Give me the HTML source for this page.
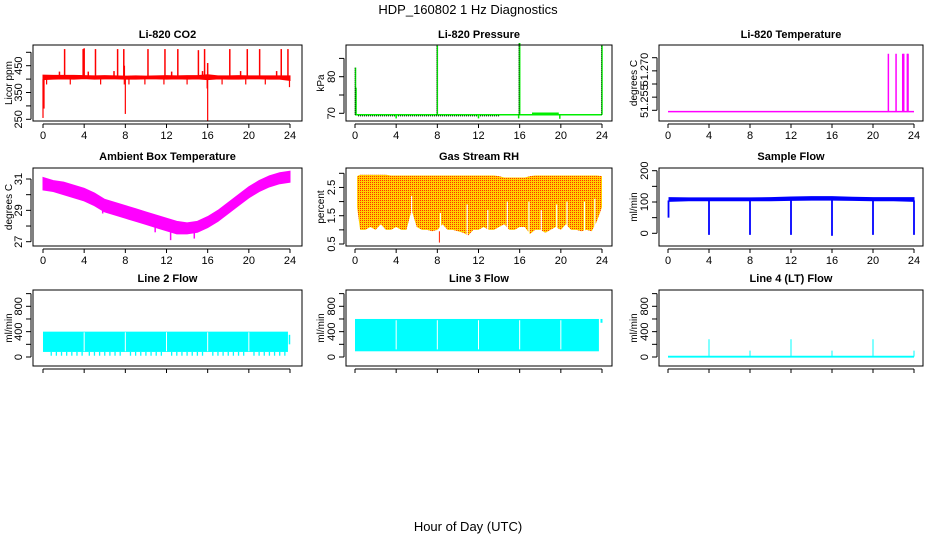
<!DOCTYPE html>
<html><head><meta charset="utf-8"><style>
html,body{margin:0;padding:0;background:#fff;}
svg{display:block;font-family:"Liberation Sans",sans-serif;}
</style></head><body>
<svg id="c" width="936" height="540" viewBox="0 0 936 540" xmlns="http://www.w3.org/2000/svg">
<defs>
<pattern id="rhpat" width="2" height="2" patternUnits="userSpaceOnUse">
<rect width="2" height="2" fill="#ffd000"/><rect x="0" y="0" width="1" height="1" fill="#ff3000"/>
</pattern>
</defs>
<text x="468" y="14" text-anchor="middle" font-size="13">HDP_160802 1 Hz Diagnostics</text>
<text x="468" y="531" text-anchor="middle" font-size="13">Hour of Day (UTC)</text>
</svg>
<script>
// ---- data ----
const xTicks = [0,4,8,12,16,20,24];
// CO2
const co2Hours = [0,1,2,3,4,5,6,7,8,9,10,11,12,13,14,15,16,17,18,19,20,21,22,23,24];
const co2Lo = [398,400,401,400,402,400,401,401,400,400,401,401,400,401,400,401,398,401,400,400,401,401,400,400,395];
const co2Hi = [415,414,414,414,413,412,413,412,411,412,411,412,413,412,413,413,416,412,412,413,412,412,412,412,412];
const co2SpikeHours = [2.1,3.9,4.0,5.1,7.25,7.85,10.2,11.85,13.1,15.1,15.7,18.15,19.85,21.05,23.15,23.8,1.6,4.4,6.9,7.9,12.5,15.5,16.0,19.2,22.7];
const co2SpikeVals = [512,512,515,512,512,512,512,512,512,508,512,512,512,512,512,512,428,428,430,450,428,430,460,430,430];
const co2DipHours = [0.0,0.1,0.35,2.65,5.6,7.9,8.0,8.35,9.9,11.75,14.0,16.0,15.95,17.4,19.7,21.6,23.95];
const co2DipVals = [255,290,380,380,380,380,270,380,380,380,380,243,365,380,380,380,370];
// Pressure
const presBase = 69.6;
const presSpikeHours = [0.05,0.1,8.0,15.98,16.0,24.0];
const presSpikeVals = [82.5,77,88.5,89.2,89.2,88.5];
const presDipHours = [4,12,15.9,19.9];
const presDipVals = [68.6,68.6,68.6,68.5];
// Li-820 temperature
const tempBase = 51.2495;
const tempSpikeHours = [21.5,22.25,22.9,23.0,23.35,23.42];
const tempSpikeVals = [51.2715,51.2715,51.2715,51.2715,51.2715,51.2715];
// Ambient
const ambHours = [0,1,2,3,4,5,6,7,8,9,10,11,12,13,14,15,16,17,18,19,20,21,22,23,24];
const ambLo = [30.3,30.2,30.0,29.8,29.6,29.3,28.9,28.7,28.5,28.3,28.1,27.9,27.7,27.5,27.5,27.6,27.9,28.3,28.8,29.3,29.8,30.2,30.5,30.7,30.8];
const ambHi = [31.1,30.9,30.8,30.6,30.4,30.1,29.7,29.5,29.3,29.1,28.9,28.7,28.5,28.3,28.2,28.3,28.6,29.0,29.5,30.0,30.5,30.9,31.2,31.4,31.5];
const ambDipHours = [2.6,5.8,10.9,12.4,14.7];
const ambDipVals = [29.9,28.8,27.6,27.1,27.2];
// RH
const rhHours = [0.2,0.5,1,1.5,2,2.5,3,3.5,4,4.5,5,5.5,6,6.5,7,7.5,8,8.5,9,9.5,10,10.5,11,11.5,12,12.5,13,13.5,14,14.5,15,15.5,16,16.5,17,17.5,18,18.5,19,19.5,20,20.5,21,21.5,22,22.5,23,23.5,24];
const rhLo = [1.8,1.0,1.0,1.1,1.0,1.2,1.0,1.0,1.1,1.0,1.0,1.7,1.1,1.0,1.0,0.95,1.0,1.2,1.0,1.0,0.95,0.9,0.8,1.0,1.0,1.1,1.0,1.0,1.1,1.2,1.0,1.0,1.1,1.1,0.85,1.0,1.0,0.9,1.0,1.1,1.0,1.2,1.0,1.0,0.95,1.0,0.95,1.3,1.8];
const rhHi = [2.9,2.95,2.95,2.95,2.95,2.95,2.95,2.92,2.92,2.92,2.92,2.92,2.92,2.92,2.92,2.92,2.92,2.92,2.92,2.92,2.92,2.92,2.92,2.92,2.92,2.92,2.92,2.92,2.9,2.85,2.85,2.85,2.85,2.85,2.9,2.92,2.92,2.92,2.92,2.92,2.92,2.92,2.92,2.92,2.92,2.92,2.92,2.92,2.9];
const rhGapHours = [5.5,8.3,10.9,12.9,14.8,16.9,18.1,19.6,20.6,22.3,23.3];
const rhGapVals = [2.2,1.6,1.9,1.7,2.0,2.0,1.7,1.9,2.0,2.0,2.1];
// Sample flow
const sfHours = [0.1,2,4,6,8,10,12,14,16,18,20,22,24];
const sfLo = [102,104,104,104,104,104,105,106,106,105,104,104,102];
const sfHi = [114,113,113,113,113,114,116,117,117,115,114,114,114];
const sfDipHours = [0.05,4,8,12,16,20,24];
const sfDipVals = [50,-5,-5,-5,-8,-5,-5];
// Line 2 flow
const l2Start = 0, l2End = 23.8;
const l2Lo = 80, l2Hi = 400;
const l2GapHours = [4,8,12,16,20];
const l2DipHours = [0.8,1.3,1.8,2.3,2.8,3.3,3.8,4.5,5.0,5.5,6.0,6.5,7.0,7.5,8.5,9.0,9.5,10.0,10.5,11.0,11.5,12.5,13.0,13.5,14.0,14.5,15.0,15.5,16.5,17.0,17.5,18.0,18.5,19.0,19.5,20.5,21.0,21.5,22.0,22.5,23.0,23.5];
const l2DipVal = 20;
// Line 3 flow
const l3Start = 0, l3End = 23.7;
const l3Lo = 90, l3Hi = 600;
const l3GapHours = [4,8,12,16,20];
// Line 4 flow
const l4Base = 5;
const l4SpikeHours = [4,8,12,16,20,24];
const l4SpikeVals = [280,100,280,100,280,100];

// ---- layout ----
const svg = document.getElementById('c');
const NS = 'http://www.w3.org/2000/svg';
function el(tag, attrs, parent){ const e=document.createElementNS(NS,tag); for(const k in attrs) e.setAttribute(k,attrs[k]); (parent||svg).appendChild(e); return e; }
const cols = [{bx0:33,bx1:302,h0:43,h24:290,yt:12},{bx0:346,bx1:612,h0:355,h24:602,yt:324},{bx0:659,bx1:923,h0:668,h24:914,yt:637}];
const rows = [{by0:45,by1:121,title:38},{by0:168,by1:246,title:160},{by0:290,by1:366,title:282}];

function makePanel(name,c,r,title,ytitle,v1,p1,v2,p2,ticks,labels,xlab){
  const C=cols[c], R=rows[r];
  const g=el('g',{});
  
  
  const X=h=>C.h0+h*(C.h24-C.h0)/24;
  const Y=v=>p1+(v-v1)*(p2-p1)/(v2-v1);
  const t=el('text',{x:(C.bx0+C.bx1)/2,y:R.title,'text-anchor':'middle','font-size':11,'font-weight':'bold'},g); t.textContent=title;
  
  
  const yt=el('text',{x:0,y:0,transform:`translate(${C.yt},${(R.by0+R.by1)/2}) rotate(-90)`,'text-anchor':'middle','font-size':10},g); yt.textContent=ytitle;
  
  
  const plot=el('g',{},g);
  
  
  const ax=el('g',{stroke:'#000','stroke-width':1},g);
  
  
  el('rect',{x:C.bx0,y:R.by0,width:C.bx1-C.bx0,height:R.by1-R.by0,fill:'none'},ax);
  el('line',{x1:X(0),x2:X(24),y1:R.by1+3,y2:R.by1+3},ax);
  xTicks.forEach(h=>{ el('line',{x1:X(h),x2:X(h),y1:R.by1+3,y2:R.by1+7},ax);
    if(xlab){ const tx=el('text',{x:X(h),y:R.by1+18,'text-anchor':'middle','font-size':11,stroke:'none'},ax); tx.textContent=h;
      
       }});
  el('line',{x1:C.bx0-2,x2:C.bx0-2,y1:Y(ticks[0]),y2:Y(ticks[ticks.length-1])},ax);
  ticks.forEach(v=>el('line',{x1:C.bx0-7,x2:C.bx0-2,y1:Y(v),y2:Y(v)},ax));
  labels.forEach(l=>{ const tx=el('text',{x:0,y:0,transform:`translate(${C.bx0-11},${Y(l[0])}) rotate(-90)`,'text-anchor':'middle','font-size':11,stroke:'none'},ax); tx.textContent=l[1];
    
     });
  return {X,Y,plot};
}
function band(P,hours,lo,hi,fill){
  let pts=hours.map((h,i)=>P.X(h)+','+P.Y(hi[i]));
  for(let i=hours.length-1;i>=0;i--) pts.push(P.X(hours[i])+','+P.Y(lo[i]));
  return el('polygon',{points:pts.join(' '),fill:fill,stroke:fill,'stroke-width':1},P.plot);
}
function vline(P,h,v0,v1,col,w){ return el('line',{x1:P.X(h),x2:P.X(h),y1:P.Y(v0),y2:P.Y(v1),stroke:col,'stroke-width':w||1.5},P.plot); }

// CO2
let P=makePanel('co2',0,0,'Li-820 CO2','Licor ppm',250,119.3,500,52.3,[250,300,350,400,450,500],[[250,'250'],[350,'350'],[450,'450']],true);
band(P,co2Hours,co2Lo,co2Hi,'#ff0000');
co2SpikeHours.forEach((h,i)=>{ const l=vline(P,h,410,co2SpikeVals[i],'#ff0000',1.5);   });
co2DipHours.forEach((h,i)=>{ const l=vline(P,h,400,co2DipVals[i],'#ff0000',1.2);   });
// Pressure
P=makePanel('pressure',1,0,'Li-820 Pressure','kPa',70,113.3,80,76.7,[70,75,80,85],[[70,'70'],[80,'80']],true);
el('line',{x1:P.X(0),x2:P.X(24),y1:P.Y(presBase),y2:P.Y(presBase),stroke:'#00ee00','stroke-width':1.5},P.plot);
el('line',{x1:P.X(0.3),x2:P.X(14),y1:P.Y(presBase-0.3),y2:P.Y(presBase-0.3),stroke:'#000','stroke-width':1,'stroke-dasharray':'1 1'},P.plot);
el('line',{x1:P.X(17.2),x2:P.X(19.8),y1:P.Y(70.0),y2:P.Y(70.0),stroke:'#00ee00','stroke-width':1.5},P.plot);
presSpikeHours.forEach((h,i)=>{ const l=vline(P,h,presBase,presSpikeVals[i],'#00ee00',1.5);  
  el('line',{x1:P.X(h)-0.5,x2:P.X(h)-0.5,y1:P.Y(presBase),y2:P.Y(presSpikeVals[i]),stroke:'#000','stroke-width':0.7,'stroke-dasharray':'1 1'},P.plot); });
presDipHours.forEach((h,i)=>vline(P,h,presBase,presDipVals[i],'#00ee00',1.5));
// Temp
P=makePanel('li820-temp',2,0,'Li-820 Temperature','degrees C',51.25,110.3,51.27,57.7,[51.25,51.255,51.26,51.265,51.27],[[51.2535,'51.255'],[51.2655,'51.270']],true);
el('line',{x1:P.X(0),x2:P.X(24),y1:P.Y(tempBase),y2:P.Y(tempBase),stroke:'#ff00ff','stroke-width':1.5},P.plot);
tempSpikeHours.forEach((h,i)=>{ const l=vline(P,h,tempBase,tempSpikeVals[i],'#ff00ff',1.5);   });
// Ambient
P=makePanel('ambient-temp',0,1,'Ambient Box Temperature','degrees C',27,241.7,31,179,[27,28,29,30,31],[[27,'27'],[29,'29'],[31,'31']],true);
band(P,ambHours,ambLo,ambHi,'#ff00ff');
ambDipHours.forEach((h,i)=>vline(P,h,ambDipVals[i]+0.5,ambDipVals[i],'#ff00ff',1.5));
// RH
P=makePanel('gas-stream-rh',1,1,'Gas Stream RH','percent',0.5,244,3.0,173.3,[0.5,1,1.5,2,2.5,3],[[0.5,'0.5'],[1.5,'1.5'],[2.5,'2.5']],true);
band(P,rhHours,rhLo,rhHi,'url(#rhpat)').setAttribute('stroke','none');
rhGapHours.forEach((h,i)=>vline(P,h,0.8,rhGapVals[i],'#ffffff',1.2));
vline(P,8.2,0.95,0.55,'#ff2000',1);
// Sample flow
P=makePanel('sample-flow',2,1,'Sample Flow','ml/min',0,233.3,200,170.7,[0,50,100,150,200],[[0,'0'],[100,'100'],[200,'200']],true);
band(P,sfHours,sfLo,sfHi,'#0000ff');
sfDipHours.forEach((h,i)=>{ const l=vline(P,h,105,sfDipVals[i],'#0000ff',1.8);   });
// Line 2
const fT=[0,200,400,600,800,1000], fL=[[0,'0'],[400,'400'],[800,'800']];
P=makePanel('line2-flow',0,2,'Line 2 Flow','ml/min',0,357,800,306.3,fT,fL,false);
el('rect',{x:P.X(l2Start),y:P.Y(l2Hi),width:P.X(l2End)-P.X(l2Start),height:P.Y(l2Lo)-P.Y(l2Hi),fill:'#00ffff'},P.plot);
l2DipHours.forEach(h=>vline(P,h,l2Lo,l2DipVal,'#00ffff',1.3));
l2GapHours.forEach(h=>vline(P,h,l2Lo+10,l2Hi-10,'#ffffff',1));
vline(P,23.95,350,200,'#00ffff',1.5);
// Line 3
P=makePanel('line3-flow',1,2,'Line 3 Flow','ml/min',0,357,800,306.3,fT,fL,false);
el('rect',{x:P.X(l3Start),y:P.Y(l3Hi),width:P.X(l3End)-P.X(l3Start),height:P.Y(l3Lo)-P.Y(l3Hi),fill:'#00ffff'},P.plot);
l3GapHours.forEach(h=>vline(P,h,l3Lo+30,l3Hi-20,'#ffffff',1));
vline(P,23.95,600,540,'#00ffff',2);
// Line 4
P=makePanel('line4-flow',2,2,'Line 4 (LT) Flow','ml/min',0,357,800,306.3,fT,fL,false);
el('line',{x1:P.X(0),x2:P.X(24),y1:P.Y(l4Base),y2:P.Y(l4Base),stroke:'#00ffff','stroke-width':1.8},P.plot);
l4SpikeHours.forEach((h,i)=>{ const l=vline(P,h,l4Base,l4SpikeVals[i],'#00ffff',1);   });
</script>
</body></html>
